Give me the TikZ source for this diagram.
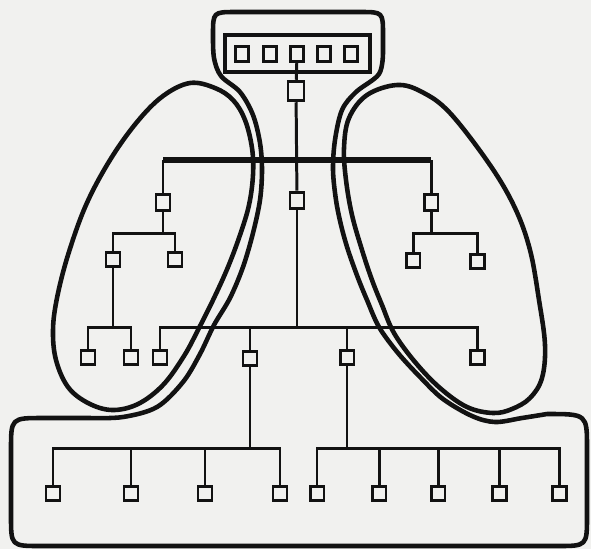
\documentclass[tikz,border=0pt]{standalone}
\definecolor{ink}{RGB}{18, 18, 18}
\definecolor{paper}{RGB}{241, 241, 239}
\usepackage{tikz}
\usetikzlibrary{positioning}

\begin{document}
\begin{tikzpicture}[x=0.02cm, y=-0.02cm,
    unit/.style={draw=ink, line width=1.7pt, minimum width=0.28cm, minimum height=0.28cm, inner sep=0pt},
    wire/.style={draw=ink, line width=1.7pt},
    bus/.style={draw=ink, line width=3.2pt},
    hull/.style={draw=ink, line width=2.6pt, line join=round}]
  \fill[paper] (0,0) rectangle (591,549);
  \useasboundingbox (0,0) rectangle (591,549);

  \node[draw=ink, line width=1.9pt, minimum width=2.9cm, minimum height=0.74cm, inner sep=0pt] (panel) at (297.5,53.5) {};
  \foreach \x [count=\i] in {242,270,297,324,351}
    \node[unit, minimum width=0.25cm, minimum height=0.3cm] (h\i) at (\x,54) {};
  \node[unit, minimum width=0.32cm, minimum height=0.39cm] (top) at (296,91) {};
  \node[unit, minimum height=0.32cm] (core) at (297,200) {};
  \node[unit, minimum height=0.32cm] (la) at (163,202) {};
  \node[unit, minimum height=0.32cm] (ra) at (431,202) {};
  \node[unit] (la1) at (113,259) {};
  \node[unit] (la2) at (175,259) {};
  \node[unit] (ra1) at (413,260) {};
  \node[unit] (ra2) at (477,261) {};
  \node[unit] (lb1) at (88,357) {};
  \node[unit] (lb2) at (131,357) {};
  \node[unit] (m1) at (160,357) {};
  \node[unit] (m2) at (250,358) {};
  \node[unit] (m3) at (347,357) {};
  \node[unit] (m4) at (477,357) {};
  \foreach \x [count=\i] in {53,131,205,280}
    \node[unit] (d\i) at (\x,493) {};
  \foreach \x [count=\i] in {317,379,438,499,559}
    \node[unit] (e\i) at (\x,493) {};

  \coordinate (y1) at (0,160);
  \coordinate (y2) at (0,233);
  \coordinate (y3) at (0,327);
  \coordinate (y4) at (0,448);

  \draw[wire] (h3) -- (top);
  \draw[wire] (top) -- (core);
  \draw[wire] (core) -- (core |- y3);
  \draw[bus] (la |- y1) -- (ra |- y1);
  \draw[wire] (la |- y1) -- (la);
  \draw[wire] (ra |- y1) -- (ra);
  \draw[wire] (la) -- (la |- y2);
  \draw[wire] (la1) -- (la1 |- y2) -- (la2 |- y2) -- (la2);
  \draw[wire] (ra) -- (ra |- y2);
  \draw[wire] (ra1) -- (ra1 |- y2) -- (ra2 |- y2) -- (ra2);
  \draw[wire] (la1) -- (la1 |- y3);
  \draw[wire] (lb1) -- (lb1 |- y3) -- (lb2 |- y3) -- (lb2);
  \draw[wire] (m1) -- (m1 |- y3) -- (m4 |- y3) -- (m4);
  \draw[wire] (m2) -- (m2 |- y3);
  \draw[wire] (m3) -- (m3 |- y3);
  \draw[wire] (m2) -- (m2 |- y4);
  \draw[wire] (d1) -- (d1 |- y4) -- (d4 |- y4) -- (d4);
  \foreach \i in {2,3}
    \draw[wire] (d\i) -- (d\i |- y4);
  \draw[wire] (m3) -- (m3 |- y4);
  \draw[wire] (e1) -- (e1 |- y4) -- (e5 |- y4) -- (e5);
  \foreach \i in {2,3,4}
    \draw[wire] (e\i) -- (e\i |- y4);

  \draw[hull] (213,35) .. controls (213,12) .. (236,12) -- (360,12) .. controls (383,12) .. (383,35) -- (383,52)
    -- plot[smooth, tension=0.55] coordinates {(383,52) (379,74) (356,92) (342,110) (335,140) (333,170) (336,200) (341,225) (348,250) (358,278) (367,300) (379,327) (398,353) (421,378) (443,399) (472,416) (495,422) (522,418) (547,414)}
    .. controls (587,414) .. (587,448) -- (587,516) .. controls (587,546) .. (557,546) -- (41,546) .. controls (11,546) .. (11,516) -- (11,450) .. controls (11,418) .. (43,418) -- (90,418)
    -- plot[smooth, tension=0.55] coordinates {(90,418) (123,417) (157,407) (183,382) (200,354) (214,325) (230,298) (243,267) (253,233) (260,200) (262,170) (260,143) (253,115) (240,92) (221,76) (214,58) (213,35)} -- cycle;
  \draw[hull] plot[smooth cycle, tension=0.6] coordinates {(190,83) (215,88) (233,100) (245,120) (252,148) (253,175) (249,205) (240,235) (228,267) (214,298) (199,328) (184,356) (163,385) (138,404) (112,410) (88,403) (68,387) (56,360) (53,330) (57,298) (68,255) (86,205) (110,160) (137,122) (163,96)};
  \draw[hull] plot[smooth cycle, tension=0.6] coordinates {(397,85) (422,92) (450,113) (490,165) (515,208) (530,250) (539,300) (545,345) (542,378) (530,398) (512,409) (493,413) (467,407) (440,388) (415,362) (394,333) (382,305) (372,280) (362,250) (352,215) (346,180) (344,148) (349,118) (367,95)};
\end{tikzpicture}
\end{document}
